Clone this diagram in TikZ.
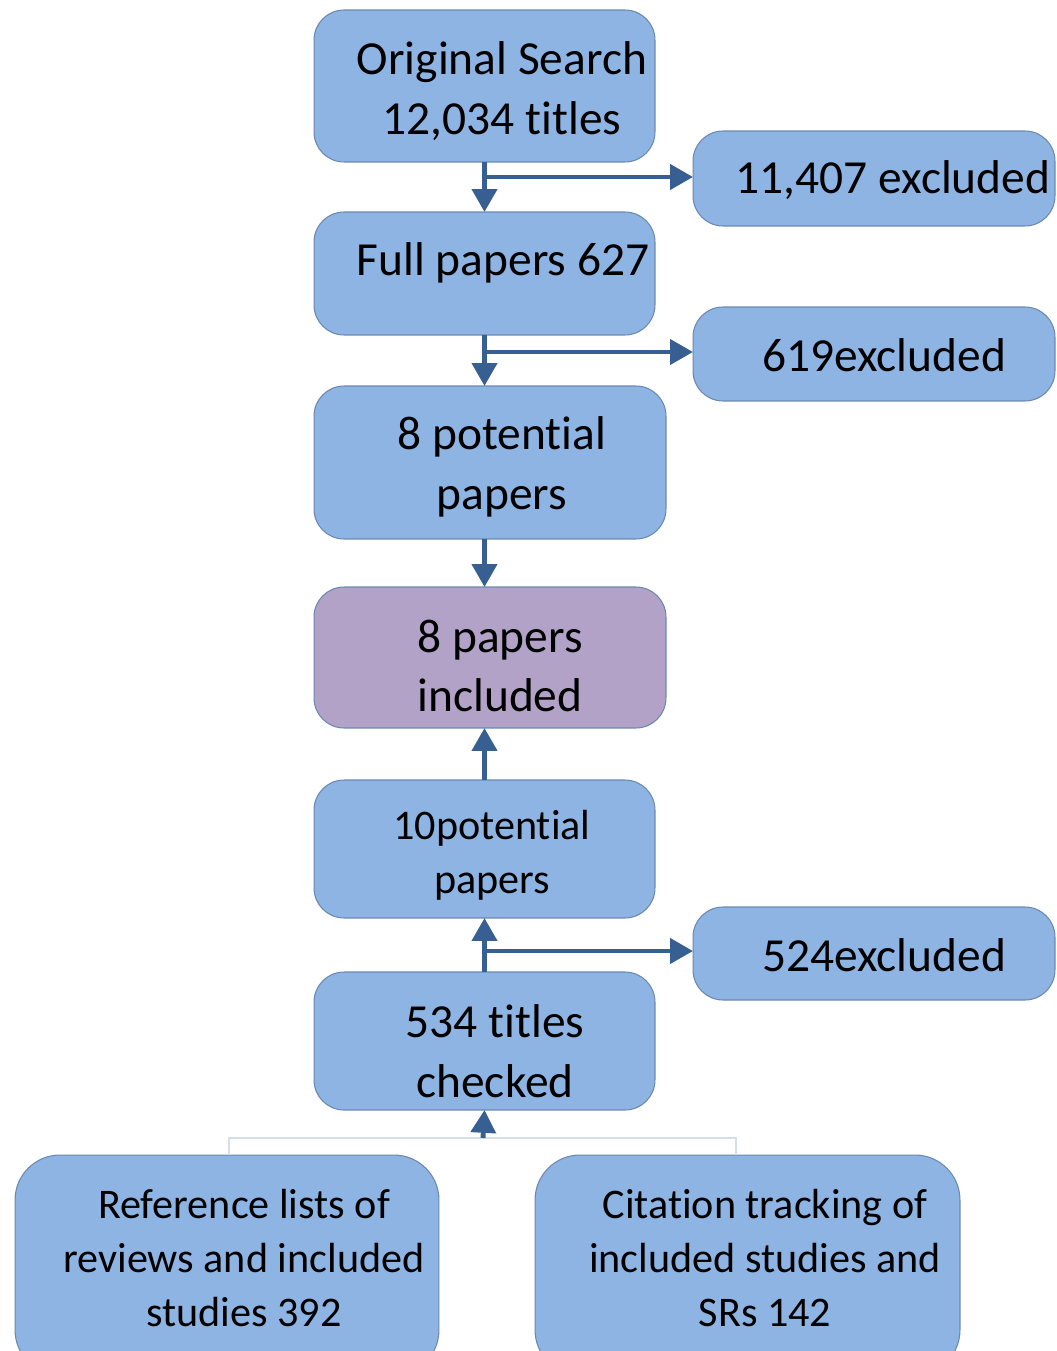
\documentclass[tikz,border=0pt]{standalone}
\usepackage{fontspec}
\setmainfont{Carlito}[Ligatures=NoCommon]
\usetikzlibrary{arrows.meta}
\definecolor{boxblue}{HTML}{8EB4E3}
\definecolor{boxpurple}{HTML}{B2A2C7}
\definecolor{boxline}{HTML}{6A88B0}
\definecolor{arrblue}{HTML}{375F92}
\definecolor{faintline}{HTML}{D6DEEA}
\tikzset{
    box/.style={draw=boxline, line width=0.6pt, fill=boxblue, rounded corners=0.6cm, inner sep=0pt, outer sep=0pt},
    incbox/.style={box, fill=boxpurple},
    bigtxt/.style={align=center, font=\fontsize{27}{34}\selectfont},
    smalltxt/.style={align=center, font=\fontsize{24}{30.5}\selectfont},
    arr/.style={draw=arrblue, line width=2.8pt, -{Triangle[width=14pt,length=13pt]}},
}
\begin{document}
\begin{tikzpicture}[x=0.02cm, y=-0.02cm]
    \useasboundingbox (0,0) rectangle (1057,1351);
    \clip (0,0) rectangle (1057,1351);
    % boxes
    \node[box, minimum width=6.82cm, minimum height=3.04cm] (orig) at (484.5,86) {};
    \node[box, minimum width=7.24cm, minimum height=1.9cm] (exA) at (874,178.5) {};
    \node[box, minimum width=6.82cm, minimum height=2.46cm] (full) at (484.5,273.5) {};
    \node[box, minimum width=7.24cm, minimum height=1.88cm] (exB) at (874,354) {};
    \node[box, minimum width=7.04cm, minimum height=3.06cm] (potA) at (490,462.5) {};
    \node[incbox, minimum width=7.04cm, minimum height=2.82cm] (incl) at (490,657.5) {};
    \node[box, minimum width=6.82cm, minimum height=2.76cm] (potB) at (484.5,849) {};
    \node[box, minimum width=7.24cm, minimum height=1.86cm] (exC) at (874,953.5) {};
    \node[box, minimum width=6.82cm, minimum height=2.76cm] (chk) at (484.5,1041) {};
    \node[box, rounded corners=0.9cm, minimum width=8.48cm, minimum height=4.4cm] (refl) at (227,1265) {};
    \node[box, rounded corners=0.9cm, minimum width=8.5cm, minimum height=4.4cm] (cite) at (747.5,1265) {};
    % texts
    \node[bigtxt] (origT) at (502,91) {Original Search\\12,034 titles};
    \node[bigtxt] (exAT) at (893,180) {11,407 excluded};
    \node[bigtxt] (fullT) at (503,263) {Full papers 627};
    \node[bigtxt] (exBT) at (884,355) {619excluded};
    \node[bigtxt] (potAT) at (502,467) {8 potential\\papers};
    \node[bigtxt] (inclT) at (500,666) {8 papers\\included};
    \node[smalltxt] (potBT) at (492,855) {10potential\\papers};
    \node[bigtxt] (exCT) at (884,955) {524excluded};
    \node[bigtxt] (chkT) at (495,1051) {534 titles\\checked};
    \node[smalltxt] (reflT) at (244,1258) {Reference lists of\\reviews and included\\studies 392};
    \node[smalltxt] (citeT) at (765,1258) {Citation tracking of\\included studies and\\SRs 142};
    % arrows
    \coordinate (bA) at (483,177);
    \coordinate (bB) at (483,352);
    \coordinate (bC) at (483,951);
    \coordinate (join) at (483,1138);
    \draw[arr] (orig.south) -- (full.north);
    \draw[arr] (bA) -- (bA -| exA.west);
    \draw[arr] (full.south) -- (full.south |- potA.north);
    \draw[arr] (bB) -- (bB -| exB.west);
    \draw[arr] (potA.south -| full.south) -- (full.south |- incl.north);
    \draw[arr] (potB.north) -- (potB.north |- incl.south);
    \draw[arr] (chk.north) -- (potB.south);
    \draw[arr] (bC) -- (bC -| exC.west);
    \draw[faintline, line width=0.6pt] (229,1155) |- (join) -| (736,1155);
    \draw[arr] (join) -- (chk.south);
\end{tikzpicture}
\end{document}
